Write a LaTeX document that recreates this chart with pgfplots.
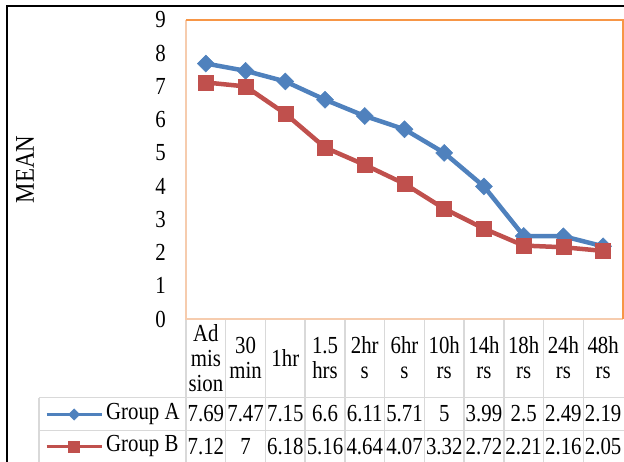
\documentclass[border=0pt]{standalone}
\usepackage{pgfplots}
\pgfplotsset{compat=1.18}
\usepackage{pgfplotstable}
\usepackage{fontspec}
\setmainfont{Liberation Serif}[FakeStretch=0.85]
\definecolor{serA}{HTML}{4F81BD}
\definecolor{serB}{HTML}{C0504D}
\definecolor{orng}{HTML}{F79646}
\definecolor{peach}{HTML}{F6CCAE}
\definecolor{grid}{HTML}{D9D9D9}
\newcommand{\tf}{\fontsize{24.5}{25}\selectfont}
\pgfplotstableread{
x A B
0 7.69 7.12
1 7.47 7.00
2 7.15 6.18
3 6.60 5.16
4 6.11 4.64
5 5.71 4.07
6 5.00 3.32
7 3.99 2.72
8 2.50 2.21
9 2.49 2.16
10 2.19 2.05
}\datatable
\begin{document}
\begin{tikzpicture}
% table grid (drawn first)
\foreach \k in {0,...,10} {
  \draw[grid, line width=1.5pt] ({186pt+\k*39.727pt},-319pt) -- ({186pt+\k*39.727pt},-470pt);
}
\draw[grid, line width=1.5pt] (39pt,-397.5pt) -- (630pt,-397.5pt);
\draw[grid, line width=1.5pt] (39pt,-430.5pt) -- (630pt,-430.5pt);
\draw[grid, line width=1.5pt] (39pt,-397.5pt) -- (39pt,-470pt);
\begin{axis}[
  at={(186pt,-319pt)}, anchor=south west,
  scale only axis, width=437pt, height=299pt,
  xmin=-0.5, xmax=10.5, ymin=0, ymax=9,
  clip=false,
  axis line style={draw=none},
  major tick length=0pt,
  ytick={0,...,9},
  xtick={0,...,10},
  xticklabels={{Ad\\mis\\sion},{30\\min},{1hr},{1.5\\hrs},{2hr\\s},{6hr\\s},{10h\\rs},{14h\\rs},{18h\\rs},{24h\\rs},{48h\\rs}},
  xticklabel style={anchor=center, yshift=-39pt, align=center, inner sep=0pt, font=\tf},
  yticklabel style={anchor=east, inner sep=0pt, xshift=-20pt, font=\tf},
  /pgf/number format/assume math mode=true,
  ylabel={MEAN},
  ylabel style={at={(axis description cs:-0.3684,0.5)}, anchor=center, font=\fontsize{27}{27}\selectfont},
  legend style={at={(axis description cs:-0.3227,-0.3729)}, anchor=west, draw=none, fill=none,
    inner xsep=0pt, inner ysep=0pt, row sep=11pt, column sep=3pt, font=\tf,
    nodes={inner sep=0pt, text height=16pt, text depth=5pt}},
  legend cell align=left,
  legend image code/.code={
    \draw[#1, mark=none] (0pt,0pt) -- (55pt,0pt);
    \draw[#1] plot coordinates {(27.5pt,0pt)};
  },
]
\addplot[serA, line width=4.5pt, mark=square*, mark size=6pt, mark options={rotate=45, line width=0.5pt},
  legend image post style={line width=3pt, mark size=4pt}] table[x=x,y=A] {\datatable};
\addlegendentry{Group A}
\addplot[serB, line width=4.5pt, mark=square*, mark size=7.5pt, mark options={line width=0.5pt},
  legend image post style={line width=3pt, mark size=5.5pt}] table[x=x,y=B] {\datatable};
\addlegendentry{Group B}
% plot area border
\draw[peach, line width=1.5pt] (rel axis cs:0,1) -- (rel axis cs:0,0) -- (rel axis cs:1,0);
\draw[orng, line width=2.5pt] (rel axis cs:0,1) -- (rel axis cs:1,1) -- (rel axis cs:1,0);
% data table values
\foreach \i/\v in {0/7.69,1/7.47,2/7.15,3/6.6,4/6.11,5/5.71,6/5,7/3.99,8/2.5,9/2.49,10/2.19} {
  \edef\temp{\noexpand\node[font=\noexpand\tf, inner sep=0pt] at (axis cs:\i,-2.86) {\v};}
  \temp
}
\foreach \i/\v in {0/7.12,1/7,2/6.18,3/5.16,4/4.64,5/4.07,6/3.32,7/2.72,8/2.21,9/2.16,10/2.05} {
  \edef\temp{\noexpand\node[font=\noexpand\tf, inner sep=0pt] at (axis cs:\i,-3.85) {\v};}
  \temp
}
\end{axis}
% outer frame
\draw[black, line width=2pt] (7pt,-470pt) -- (7pt,-6pt) -- (630pt,-6pt);
\pgfresetboundingbox
\useasboundingbox (0pt,0pt) rectangle (624pt,-462pt);
\end{tikzpicture}
\end{document}
